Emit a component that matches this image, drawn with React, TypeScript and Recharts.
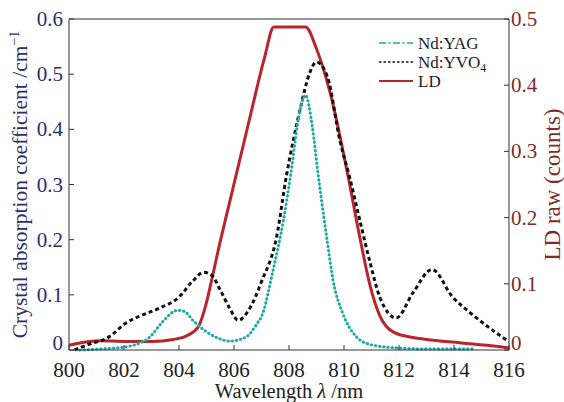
import React from "react"
import {
  ComposedChart,
  Line,
  XAxis,
  YAxis,
} from "recharts"

// Nd:YAG absorption (left axis, cm^-1)
const yagWavelength = [800.4, 801.2, 802.1, 802.6, 802.95, 803.4, 803.95, 804.2, 804.5, 805.0, 805.4, 805.85, 806.45, 806.8, 807.05, 807.4, 807.8, 808.05, 808.4, 808.6, 808.85, 809.05, 809.4, 809.6, 809.95, 810.45, 810.95, 811.85, 813.0, 814.7]
const yagAbsorption = [0.0, 0.002, 0.006, 0.013, 0.024, 0.051, 0.072, 0.07, 0.054, 0.033, 0.022, 0.016, 0.024, 0.045, 0.067, 0.14, 0.236, 0.314, 0.435, 0.462, 0.404, 0.322, 0.194, 0.127, 0.067, 0.024, 0.01, 0.004, 0.002, 0.002]

// Nd:YVO4 absorption (left axis, cm^-1)
const yvoWavelength = [800.2, 800.7, 801.4, 802.1, 802.7, 803.3, 804.0, 804.5, 804.9, 805.2, 805.5, 805.85, 806.15, 806.6, 807.0, 807.55, 807.9, 808.4, 808.75, 809.0, 809.4, 809.85, 810.2, 810.6, 810.95, 811.3, 811.9, 812.5, 813.2, 813.95, 814.6, 815.4, 816.0]
const yvoAbsorption = [0.0, 0.01, 0.022, 0.05, 0.064, 0.076, 0.096, 0.125, 0.141, 0.135, 0.109, 0.075, 0.054, 0.078, 0.124, 0.205, 0.314, 0.435, 0.502, 0.522, 0.495, 0.38, 0.314, 0.23, 0.158, 0.096, 0.058, 0.103, 0.146, 0.096, 0.067, 0.036, 0.015]

// LD emission (right axis, counts)
const ldWavelength = [800.0, 800.6, 801.2, 802.0, 803.0, 803.8, 804.3, 804.7, 805.0, 805.2, 805.45, 805.85, 806.6, 807.1, 807.45, 808.6, 809.0, 809.5, 810.15, 810.6, 810.95, 811.3, 811.8, 812.5, 813.0, 814.2, 815.2, 816.0]
const ldCounts = [0.007, 0.012, 0.014, 0.013, 0.013, 0.016, 0.022, 0.035, 0.072, 0.108, 0.155, 0.225, 0.355, 0.44, 0.488, 0.488, 0.455, 0.388, 0.262, 0.165, 0.097, 0.052, 0.027, 0.019, 0.016, 0.011, 0.007, 0.003]

const xTicks = [800, 802, 804, 806, 808, 810, 812, 814, 816]
const absTicks = [0, 0.1, 0.2, 0.3, 0.4, 0.5, 0.6]
const ldTicks = [0, 0.1, 0.2, 0.3, 0.4, 0.5]

const yagData = yagWavelength.map((w, i) => ({ w, v: yagAbsorption[i] }))
const yvoData = yvoWavelength.map((w, i) => ({ w, v: yvoAbsorption[i] }))
const ldData = ldWavelength.map((w, i) => ({ w, v: ldCounts[i] }))

const FONT = "Liberation Serif, serif"
const NAVY = "#2d2f6e"
const MAROON = "#7e2b2f"
const AXIS = "#333"
const RED = "#b8262d"
const TEAL = "#1fa8a6"

const fmt = (v: number) => (v === 0 ? "0" : v.toFixed(1))
// the zero labels sit a little above their tick, as in the original
const labelDy = (v: number) => (v === 0 ? 0 : 7)

const BottomTick = (props: any) => {
  const { x, y, payload } = props
  return (
    <g>
      <line x1={x} x2={x} y1={y} y2={y - 5} stroke={AXIS} strokeWidth={1} />
      <text x={x} y={y + 27} textAnchor="middle" style={{ fontFamily: FONT }} fontSize={21} fill="#222">
        {payload.value}
      </text>
    </g>
  )
}

const TopTick = (props: any) => {
  const { x, y } = props
  return <line x1={x} x2={x} y1={y} y2={y + 5} stroke={AXIS} strokeWidth={1} />
}

const LeftTick = (props: any) => {
  const { x, y, payload } = props
  return (
    <g>
      <line x1={x} x2={x + 5} y1={y} y2={y} stroke={AXIS} strokeWidth={1} />
      <text x={x - 6} y={y + labelDy(payload.value)} textAnchor="end" style={{ fontFamily: FONT }} fontSize={21} fill={NAVY}>
        {fmt(payload.value)}
      </text>
    </g>
  )
}

const RightTick = (props: any) => {
  const { x, y, payload } = props
  return (
    <g>
      <line x1={x} x2={x - 5} y1={y} y2={y} stroke={AXIS} strokeWidth={1} />
      <text x={x + 2} y={y + labelDy(payload.value)} textAnchor="start" style={{ fontFamily: FONT }} fontSize={21} fill={MAROON}>
        {fmt(payload.value)}
      </text>
    </g>
  )
}

const LeftTitle = (props: any) => {
  const { viewBox } = props
  const cx = viewBox.x + 27
  const cy = viewBox.y + viewBox.height / 2
  return (
    <text x={cx} y={cy} transform={`rotate(-90, ${cx}, ${cy})`} textAnchor="middle" style={{ fontFamily: FONT }} fontSize={21.5} fill={NAVY}>
      Crystal absorption coefficient /cm
      <tspan dy={-8} fontSize={14}>−1</tspan>
    </text>
  )
}

const RightTitle = (props: any) => {
  const { viewBox } = props
  const cx = viewBox.x + 51
  const cy = viewBox.y + viewBox.height / 2
  return (
    <text x={cx} y={cy} transform={`rotate(-90, ${cx}, ${cy})`} textAnchor="middle" style={{ fontFamily: FONT }} fontSize={23} fill={MAROON}>
      LD raw (counts)
    </text>
  )
}

const BottomTitle = (props: any) => {
  const { viewBox } = props
  const cx = viewBox.x + viewBox.width / 2
  return (
    <text x={cx} y={viewBox.y + 48} textAnchor="middle" style={{ fontFamily: FONT }} fontSize={20.5} fill="#222">
      Wavelength <tspan fontStyle="italic">λ</tspan> /nm
    </text>
  )
}

const legendRows = [
  { label: "Nd:YAG", sub: "", color: TEAL, dash: "7 2.5 2 2.5", width: 1.5 },
  { label: "Nd:YVO", sub: "4", color: "#111", dash: "2.5 2", width: 1.5 },
  { label: "LD", sub: "", color: RED, dash: undefined, width: 2 },
]

const LegendBox = () => (
  <svg width={110} height={62} style={{ position: "absolute", left: 378, top: 33 }}>
    {legendRows.map((r, i) => (
      <g key={r.label}>
        <line x1={1} x2={35} y1={10 + i * 19} y2={10 + i * 19} stroke={r.color} strokeWidth={r.width} strokeDasharray={r.dash} />
        <text x={40} y={16 + i * 19} style={{ fontFamily: FONT }} fontSize={17} fill="#222">
          {r.label}
          {r.sub && <tspan fontSize={12} dy={4}>{r.sub}</tspan>}
        </text>
      </g>
    ))}
  </svg>
)

export default function App() {
  return (
    <div style={{ position: "absolute", left: 0, top: 0, width: 564, height: 402, background: "#fff" }}>
      <ComposedChart width={564} height={402} margin={{ top: 4, right: 0, bottom: 0, left: 0 }}>
        <XAxis
          xAxisId="x"
          dataKey="w"
          type="number"
          domain={[800, 816]}
          ticks={xTicks}
          allowDataOverflow
          height={52}
          tickSize={0}
          tickMargin={0}
          tickLine={false}
          axisLine={{ stroke: AXIS }}
          tick={<BottomTick />}
          label={<BottomTitle />}
        />
        <XAxis
          xAxisId="top"
          orientation="top"
          type="number"
          domain={[800, 816]}
          ticks={xTicks}
          height={15}
          tickSize={0}
          tickMargin={0}
          tickLine={false}
          axisLine={{ stroke: AXIS }}
          tick={<TopTick />}
        />
        <YAxis
          yAxisId="abs"
          type="number"
          domain={[0, 0.6]}
          ticks={absTicks}
          width={69}
          tickSize={0}
          tickMargin={0}
          tickLine={false}
          axisLine={{ stroke: AXIS }}
          tick={<LeftTick />}
          label={<LeftTitle />}
        />
        <YAxis
          yAxisId="ld"
          orientation="right"
          type="number"
          domain={[0, 0.5]}
          ticks={ldTicks}
          width={55}
          tickSize={0}
          tickMargin={0}
          tickLine={false}
          axisLine={{ stroke: AXIS }}
          tick={<RightTick />}
          label={<RightTitle />}
        />
        <Line
          xAxisId="x"
          yAxisId="ld"
          data={ldData}
          dataKey="v"
          type="monotone"
          stroke={RED}
          strokeWidth={3}
          dot={false}
          isAnimationActive={false}
        />
        <Line
          xAxisId="x"
          yAxisId="abs"
          data={yvoData}
          dataKey="v"
          type="monotone"
          stroke="#111"
          strokeWidth={3}
          strokeDasharray="4 3"
          dot={false}
          isAnimationActive={false}
        />
        <Line
          xAxisId="x"
          yAxisId="abs"
          data={yagData}
          dataKey="v"
          type="monotone"
          stroke="#9ad8d6"
          strokeWidth={1.2}
          dot={false}
          isAnimationActive={false}
        />
        <Line
          xAxisId="x"
          yAxisId="abs"
          data={yagData}
          dataKey="v"
          type="monotone"
          stroke={TEAL}
          strokeWidth={3.2}
          strokeDasharray="0 4.2"
          strokeLinecap="round"
          dot={false}
          isAnimationActive={false}
        />
      </ComposedChart>
      <LegendBox />
    </div>
  )
}
